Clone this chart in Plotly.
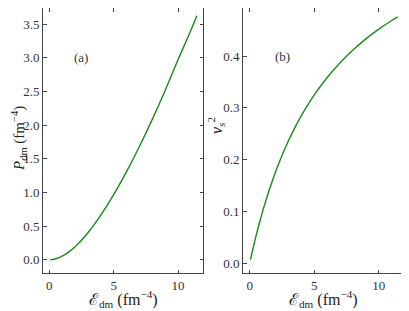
import plotly.graph_objects as go

# Data
E_dm = [0.06, 0.25, 0.5, 0.75, 1.0, 1.5, 2.0, 2.5, 3.0, 3.5, 4.0, 5.0, 6.0, 7.0, 8.0, 9.0, 10.0, 11.0, 11.46]
P_dm = [0.0002, 0.0035, 0.0138, 0.0302, 0.0524, 0.1128, 0.1921, 0.2884, 0.3994, 0.5242, 0.6611, 0.9667,
        1.3089, 1.6823, 2.0850, 2.5150, 2.9700, 3.4100, 3.6261]
vs2 = [0.0069, 0.0278, 0.0536, 0.0776, 0.1000, 0.1405, 0.1763, 0.2080, 0.2364, 0.2619, 0.2849, 0.3250,
       0.3587, 0.3873, 0.4119, 0.4334, 0.4522, 0.4689, 0.4760]

x_ticks = [0, 5, 10]
p_ticks = [0.0, 0.5, 1.0, 1.5, 2.0, 2.5, 3.0, 3.5]
v_ticks = [0.0, 0.1, 0.2, 0.3, 0.4]

W, H = 409, 311
OFF = 8  # page body margin
FONT = "Liberation Serif"
LC = "#444444"
GREEN = "#1a8a1a"


def px(x):
    return (x - OFF) / W


def py(y):
    return min(1.0, 1 - (y - OFF) / H)


fig = go.Figure()
fig.add_trace(go.Scatter(x=E_dm, y=P_dm, mode="lines", line=dict(color=GREEN, width=1.4, shape="spline"),
                         xaxis="x", yaxis="y", showlegend=False))
fig.add_trace(go.Scatter(x=E_dm, y=vs2, mode="lines", line=dict(color=GREEN, width=1.4, shape="spline"),
                         xaxis="x2", yaxis="y2", showlegend=False))

ydom = [py(273), 1.0]
common = dict(showline=True, linecolor=LC, linewidth=1, mirror="allticks", ticks="inside",
              ticklen=3.5, tickcolor=LC, tickwidth=1, showgrid=False, zeroline=False, automargin=False,
              tickfont=dict(family=FONT, size=13, color="#333333"))
xlab = "\u2130<sub>dm</sub> (fm<sup>\u22124</sup>)"
tfont = dict(family=FONT, size=16, color="#222222")

fig.update_layout(
    width=W, height=H,
    margin=dict(l=0, r=0, t=0, b=0, autoexpand=False),
    paper_bgcolor="white", plot_bgcolor="white",
    font=dict(family=FONT, color="#222222"),
    xaxis=dict(domain=[px(43), px(203)], range=[-0.49, 11.94], tickvals=x_ticks, anchor="y", **common),
    yaxis=dict(domain=ydom, range=[-0.198, 3.74], tickvals=p_ticks, tickformat=".1f", anchor="x", **common),
    xaxis2=dict(domain=[px(243), px(404)], range=[-0.52, 11.95], tickvals=x_ticks, anchor="y2", **common),
    yaxis2=dict(domain=ydom, range=[-0.019, 0.493], tickvals=v_ticks, tickformat=".1f", anchor="x2", **common),
    annotations=[
        dict(text="(a)", x=2.5, y=3.0, xref="x", yref="y", showarrow=False,
             font=dict(family=FONT, size=13, color="#333333")),
        dict(text="(b)", x=2.55, y=0.4, xref="x2", yref="y2", showarrow=False,
             font=dict(family=FONT, size=13, color="#333333")),
        dict(text=xlab, x=px(123), y=py(299), xref="paper", yref="paper", showarrow=False, font=tfont,
             xanchor="center", yanchor="middle"),
        dict(text=xlab, x=px(323), y=py(299), xref="paper", yref="paper", showarrow=False, font=tfont,
             xanchor="center", yanchor="middle"),
        dict(text="<i>P</i><sub>dm</sub> (fm<sup>\u22124</sup>)", x=px(19), y=py(139), xref="paper",
             yref="paper", showarrow=False, textangle=-90, font=dict(family=FONT, size=15, color="#222222"),
             xanchor="center", yanchor="middle"),
        dict(text="<i>v</i><sub><i>s</i></sub><sup>2</sup>", x=px(216), y=py(126), xref="paper",
             yref="paper", showarrow=False, textangle=-90, font=tfont, xanchor="center", yanchor="middle"),
    ],
)

fig.write_html("out.html")
